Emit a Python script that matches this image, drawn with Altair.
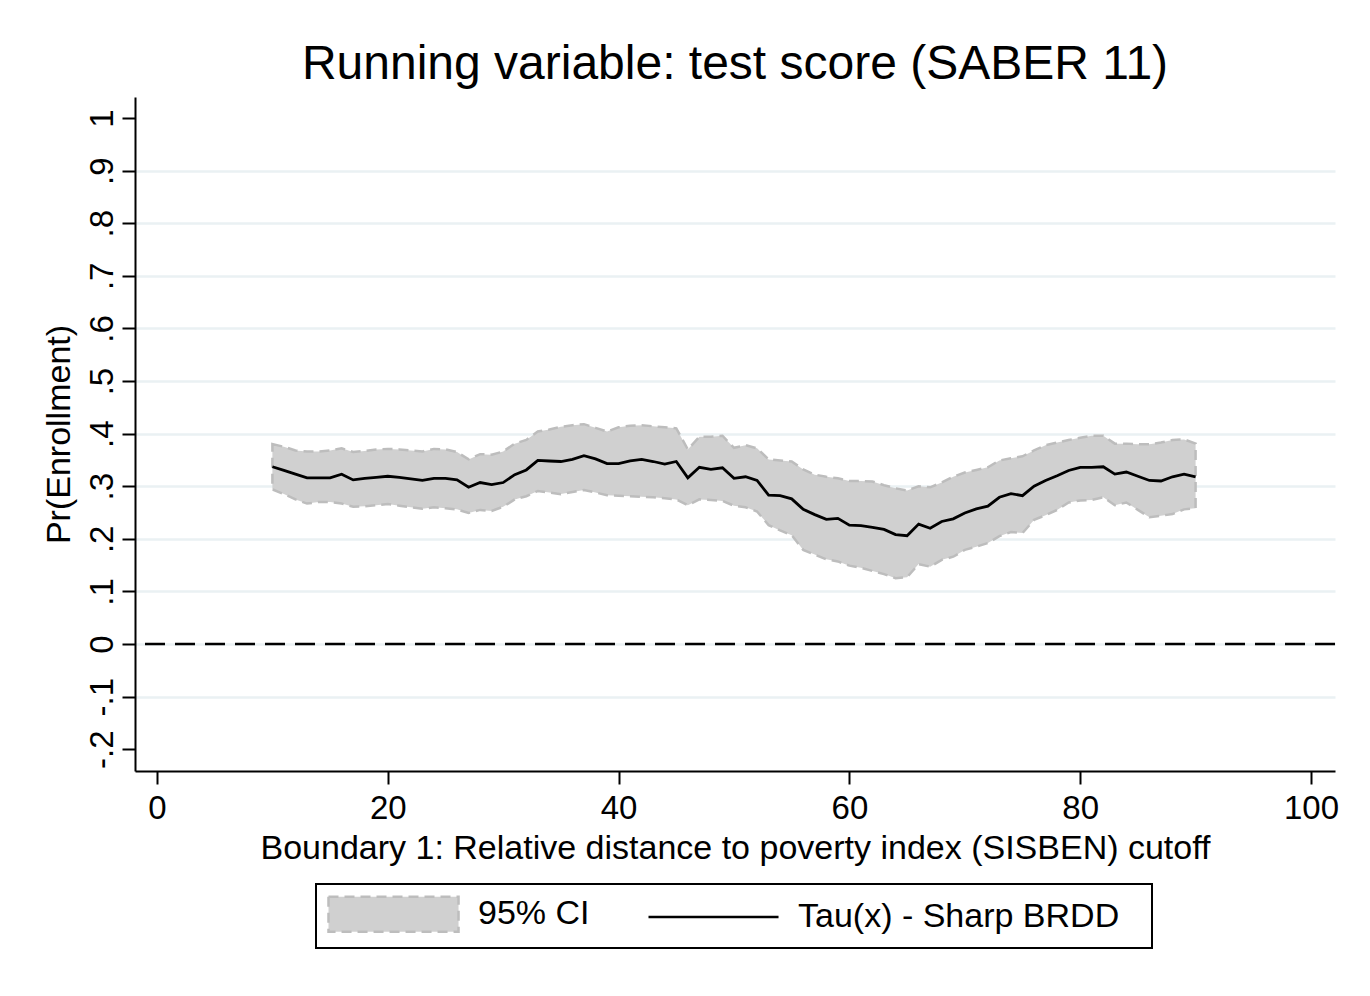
import altair as alt
import pandas as pd

# ---------------- data ----------------
x_vals = list(range(10, 91))

tau = [0.337, 0.330, 0.323, 0.316, 0.316, 0.316, 0.323, 0.312, 0.315, 0.317,
       0.319, 0.317, 0.314, 0.311, 0.315, 0.315, 0.312, 0.298, 0.307, 0.303,
       0.307, 0.322, 0.331, 0.349, 0.348, 0.347, 0.351, 0.358, 0.352, 0.343,
       0.343, 0.348, 0.351, 0.347, 0.342, 0.347, 0.316, 0.336, 0.332, 0.335,
       0.315, 0.318, 0.311, 0.283, 0.282, 0.276, 0.256, 0.246, 0.237, 0.239,
       0.226, 0.225, 0.222, 0.218, 0.208, 0.206, 0.228, 0.220, 0.233, 0.238,
       0.249, 0.257, 0.262, 0.279, 0.286, 0.282, 0.300, 0.311, 0.320, 0.330,
       0.336, 0.336, 0.337, 0.323, 0.327, 0.319, 0.311, 0.310, 0.318, 0.323,
       0.318]

upper = [0.380, 0.375, 0.368, 0.366, 0.366, 0.368, 0.372, 0.365, 0.367, 0.370,
         0.371, 0.370, 0.368, 0.366, 0.371, 0.370, 0.365, 0.351, 0.361, 0.360,
         0.366, 0.381, 0.388, 0.404, 0.408, 0.413, 0.416, 0.418, 0.411, 0.404,
         0.412, 0.415, 0.416, 0.414, 0.412, 0.410, 0.370, 0.394, 0.394, 0.396,
         0.373, 0.378, 0.372, 0.351, 0.349, 0.347, 0.332, 0.322, 0.318, 0.315,
         0.310, 0.310, 0.309, 0.302, 0.296, 0.292, 0.300, 0.298, 0.307, 0.318,
         0.326, 0.331, 0.336, 0.349, 0.353, 0.357, 0.368, 0.378, 0.383, 0.388,
         0.392, 0.396, 0.396, 0.381, 0.381, 0.380, 0.380, 0.383, 0.388, 0.389,
         0.381]

lower = [0.294, 0.285, 0.275, 0.267, 0.270, 0.270, 0.267, 0.261, 0.262, 0.264,
         0.266, 0.263, 0.260, 0.257, 0.260, 0.258, 0.256, 0.249, 0.255, 0.253,
         0.261, 0.275, 0.281, 0.291, 0.288, 0.285, 0.289, 0.293, 0.288, 0.283,
         0.282, 0.281, 0.280, 0.279, 0.277, 0.275, 0.264, 0.275, 0.274, 0.272,
         0.263, 0.260, 0.252, 0.226, 0.216, 0.207, 0.179, 0.170, 0.161, 0.157,
         0.149, 0.145, 0.139, 0.133, 0.125, 0.127, 0.152, 0.147, 0.160, 0.166,
         0.179, 0.185, 0.192, 0.205, 0.213, 0.211, 0.236, 0.245, 0.255, 0.269,
         0.273, 0.274, 0.279, 0.264, 0.269, 0.255, 0.241, 0.244, 0.247, 0.256,
         0.258]

x_ticks = [0, 20, 40, 60, 80, 100]
y_ticks = [round(v / 10, 1) for v in range(-2, 11)]
zero_line = [0]

ci_label = "95% CI"
tau_label = "Tau(x) - Sharp BRDD"
legend_labels = [ci_label, tau_label]
title_text = "Running variable: test score (SABER 11)"
x_title = "Boundary 1: Relative distance to poverty index (SISBEN) cutoff"
y_title = "Pr(Enrollment)"

df = pd.DataFrame({"x": x_vals, "tau": tau, "upper": upper, "lower": lower})
zero_df = pd.DataFrame({"zero": zero_line})
legend_df = pd.DataFrame({"series": legend_labels})

# ---------------- styling ----------------
FONT = "Liberation Sans"
FS = 34
BAND_FILL = "#d0d0d0"
BAND_EDGE = "#bdbdbd"
GRID = "#eaf1f3"

xscale = alt.Scale(domain=[-1.906, 102.08], nice=False, zero=False)
yscale = alt.Scale(domain=[-0.2414, 1.040], nice=False, zero=False)

xaxis = alt.Axis(
    values=x_ticks, format="d", grid=False,
    tickSize=13, tickWidth=2, tickColor="black",
    domainColor="black", domainWidth=2,
    labelFont=FONT, labelFontSize=33, labelColor="black", labelPadding=8,
    labelFlush=False, labelOverlap=False,
    title=x_title, titleFont=FONT, titleFontSize=FS, titleFontWeight="normal",
    titleColor="black", titleY=87, titleBaseline="alphabetic",
)

ylabel_expr = ("abs(datum.value) < 1e-9 ? '0' : (abs(datum.value - 1) < 1e-9 ? '1' : "
               "(datum.value < 0 ? '-' : '') + '.' + format(abs(datum.value) * 10, '.0f'))")

yaxis = alt.Axis(
    values=y_ticks, labelExpr=ylabel_expr,
    grid=True, gridColor=GRID, gridWidth=2.5,
    gridOpacity={"condition": {"test": "datum.value < -0.15 || datum.value > 0.95", "value": 0},
                 "value": 1},
    tickSize=13, tickWidth=2, tickColor="black",
    domainColor="black", domainWidth=2,
    labelFont=FONT, labelFontSize=33, labelColor="black",
    labelAngle=270, labelAlign="center", labelBaseline="alphabetic", labelPadding=10,
    labelFlush=False, labelOverlap=False,
    title=y_title, titleFont=FONT, titleFontSize=FS, titleFontWeight="normal",
    titleColor="black", titleAngle=270, titleX=-66, titleY=337,
    titleAlign="center", titleBaseline="alphabetic",
)

rect_path = "M-1,-1H6.43V1H-1Z"
line_path = "M-1,0H6.43"

legend = alt.Legend(
    orient="none", legendX=181, legendY=787, direction="horizontal", columns=2,
    title=" ", titleOrient="right", titleFontSize=2, titlePadding=22,
    symbolSize=1225, labelOffset=113, columnPadding=53,
    symbolStrokeWidth=2.5, symbolOpacity=1,
    labelFont=FONT, labelFontSize=FS, labelColor="black", labelLimit=1000,
    padding=11, strokeColor="black",
)

band = alt.Chart(df).mark_area(
    fill=BAND_FILL, stroke=BAND_EDGE, strokeWidth=2.5, strokeDash=[10, 6], opacity=1
).encode(
    x=alt.X("x:Q", scale=xscale, axis=xaxis),
    y=alt.Y("upper:Q", scale=yscale, axis=yaxis),
    y2="lower:Q",
)

line = alt.Chart(df).mark_line(strokeWidth=2.8, color="black").encode(
    x=alt.X("x:Q", scale=xscale, axis=xaxis),
    y=alt.Y("tau:Q", scale=yscale, axis=yaxis),
)

zero_rule = alt.Chart(zero_df).mark_rule(
    color="black", strokeWidth=2.5, strokeDash=[20, 10]
).encode(
    y=alt.Y("zero:Q", scale=yscale, axis=yaxis),
)

# invisible layer that only carries the legend keys
legend_layer = alt.Chart(legend_df).mark_point(opacity=0, strokeWidth=2.5).encode(
    shape=alt.Shape("series:N", scale=alt.Scale(domain=legend_labels, range=[rect_path, line_path]),
                    legend=legend),
    fill=alt.Fill("series:N", scale=alt.Scale(domain=legend_labels, range=[BAND_FILL, "transparent"]),
                  legend=legend),
    stroke=alt.Stroke("series:N", scale=alt.Scale(domain=legend_labels, range=[BAND_EDGE, "black"]),
                      legend=legend),
    strokeDash=alt.StrokeDash("series:N", scale=alt.Scale(domain=legend_labels, range=[[10, 6], [1, 0]]),
                              legend=legend),
)

chart = alt.layer(band, line, zero_rule, legend_layer).properties(
    width=1200, height=674,
    title=alt.Title(title_text, font=FONT, fontSize=48, fontWeight="normal",
                    color="black", anchor="middle", baseline="alphabetic", offset=17, dy=47),
    autosize=alt.AutoSizeParams(type="none"),
    padding={"left": 127, "top": 89, "right": 20, "bottom": 200},
).configure_view(stroke=None).configure_legend(strokeWidth=2)

chart.save("out.html", embed_options={"renderer": "svg", "actions": False})
